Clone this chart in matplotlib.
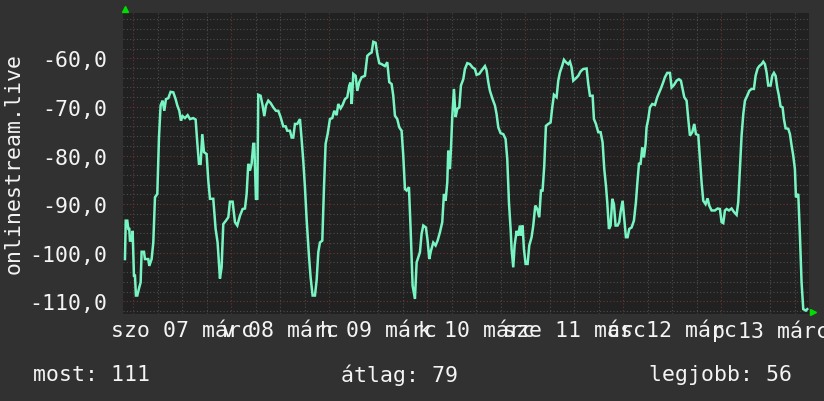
import matplotlib
matplotlib.use("Agg")
import matplotlib.pyplot as plt
import numpy as np

# ---- data (hours since Mar 07 00:00, value) ----
hours = [
    -2.04, -1.85, -1.47, -1.22, -0.98, -0.82, -0.41, -0.16, 0.16, 0.41,
    0.65, 0.98, 1.47, 1.80, 2.04, 2.61, 2.86, 3.67, 3.92, 4.49,
    4.90, 5.31, 5.88, 6.29, 6.69, 7.18, 7.59, 8.00, 8.57, 9.14,
    9.80, 10.37, 10.78, 11.27, 11.67, 12.08, 12.65, 13.31, 13.88, 14.69,
    15.27, 15.67, 16.08, 16.49, 16.90, 17.31, 17.96, 18.37, 18.78, 19.59,
    20.16, 20.65, 21.22, 21.63, 22.04, 22.69, 23.27, 23.67, 24.33, 24.90,
    25.47, 26.12, 26.78, 27.35, 27.76, 28.16, 28.57, 28.98, 29.39, 29.63,
    30.04, 30.37, 30.61, 31.18, 31.67, 32.08, 32.49, 33.06, 33.63, 34.29,
    34.94, 35.51, 36.08, 36.73, 37.31, 37.71, 38.37, 38.78, 39.18, 39.59,
    40.16, 40.82, 41.22, 41.63, 42.04, 42.45, 43.02, 43.43, 43.92, 44.49,
    44.90, 45.31, 45.71, 46.29, 46.69, 47.10, 47.59, 48.16, 48.73, 49.22,
    49.80, 50.20, 50.78, 51.27, 51.84, 52.41, 52.90, 53.20, 53.50, 53.88,
    54.45, 54.86, 55.35, 55.92, 56.73, 57.31, 57.80, 58.37, 58.78, 59.35,
    59.76, 60.24, 60.82, 61.63, 62.20, 62.69, 63.27, 63.67, 64.08, 64.65,
    65.14, 65.71, 66.12, 66.53, 66.94, 67.51, 67.92, 68.41, 68.98, 69.39,
    69.80, 70.20, 70.61, 71.02, 71.67, 72.08, 72.49, 72.90, 73.47, 74.04,
    74.53, 75.10, 75.67, 76.08, 76.49, 76.90, 77.14, 77.55, 77.80, 78.12,
    78.53, 78.94, 79.35, 79.84, 80.24, 80.82, 81.22, 81.80, 82.45, 83.10,
    83.67, 84.08, 84.73, 85.31, 86.12, 86.53, 86.94, 87.35, 88.00, 88.57,
    88.98, 89.39, 89.96, 90.61, 91.18, 91.59, 92.00, 92.41, 92.65, 93.06,
    93.39, 93.88, 94.29, 94.69, 95.02, 95.35, 95.67, 96.08, 96.57, 96.98,
    97.55, 97.96, 98.45, 98.94, 99.43, 99.84, 100.24, 100.65, 101.06, 101.63,
    102.20, 102.61, 103.02, 103.67, 104.08, 104.49, 105.06, 105.47, 105.96, 106.53,
    106.94, 107.35, 107.76, 108.41, 108.98, 109.55, 110.20, 111.02, 111.43, 111.84,
    112.49, 112.82, 113.31, 113.88, 114.45, 114.94, 115.35, 115.76, 116.08, 116.49,
    116.90, 117.31, 117.71, 118.12, 118.61, 119.02, 119.35, 119.84, 120.24, 120.65,
    121.06, 121.47, 122.04, 122.61, 123.10, 123.43, 123.84, 124.24, 124.65, 125.06,
    125.47, 125.71, 126.12, 126.53, 127.10, 127.76, 128.33, 128.82, 129.22, 129.80,
    130.20, 130.78, 131.43, 131.84, 132.41, 133.06, 133.63, 134.12, 134.53, 134.94,
    135.51, 135.92, 136.33, 136.90, 137.39, 137.80, 138.37, 138.78, 139.18, 139.59,
    140.16, 140.65, 141.06, 141.63, 142.45, 143.10, 143.67, 144.08, 144.49, 144.90,
    145.31, 145.88, 146.53, 147.10, 147.76, 148.16, 148.57, 148.98, 149.39, 149.80,
    150.37, 150.86, 151.43, 152.00, 152.41, 152.90, 153.31, 153.88, 154.29, 154.69,
    155.10, 155.51, 156.08, 156.49, 156.90, 157.31, 157.71, 158.12, 158.53, 159.02,
    159.35, 159.76, 160.41, 160.82, 161.22, 161.63, 162.04, 162.29, 162.86, 163.27,
    163.67, 164.08, 164.73, 165.06,
]
values = [
    -101.3, -93.4, -93.4, -95.1, -95.1, -97.5, -97.5, -95.5, -104.7, -104.7,
    -108.8, -108.8, -107.1, -106.1, -99.8, -99.8, -101.3, -101.3, -102.7, -101.3,
    -97.9, -88.6, -87.9, -76.3, -69.7, -68.7, -70.8, -68.4, -68.2, -66.9,
    -67.0, -68.4, -69.7, -70.8, -72.8, -71.9, -72.3, -71.7, -72.5, -72.3,
    -72.6, -77.3, -81.7, -81.7, -75.6, -79.3, -79.7, -85.2, -88.9, -88.9,
    -95.1, -97.9, -105.3, -103.0, -94.1, -93.4, -92.7, -89.5, -89.5, -93.7,
    -94.4, -92.4, -91.0, -90.9, -87.9, -81.7, -83.1, -81.7, -77.6, -77.6,
    -88.9, -88.9, -67.5, -67.7, -69.7, -71.9, -69.7, -68.7, -69.2, -70.1,
    -70.8, -70.8, -72.1, -74.0, -74.0, -74.9, -74.9, -76.3, -76.3, -73.5,
    -73.5, -72.5, -76.6, -81.1, -86.5, -93.1, -100.6, -105.1, -108.8, -108.8,
    -105.7, -99.9, -97.9, -97.5, -86.9, -77.6, -75.6, -72.5, -72.3, -70.8,
    -71.7, -69.4, -70.3, -69.6, -68.4, -68.0, -65.6, -65.0, -69.4, -63.2,
    -63.6, -66.7, -64.9, -63.9, -63.6, -59.5, -59.1, -58.8, -56.6, -56.8,
    -59.1, -61.0, -61.2, -61.6, -60.8, -64.9, -65.3, -67.7, -71.8, -72.5,
    -74.2, -74.9, -80.0, -86.9, -87.2, -86.5, -95.1, -106.8, -109.5, -102.0,
    -100.9, -99.9, -96.1, -94.4, -94.8, -97.5, -101.3, -99.6, -97.9, -98.5,
    -97.5, -95.8, -93.7, -87.9, -89.3, -85.5, -79.0, -82.8, -78.7, -72.1,
    -66.3, -72.1, -70.4, -70.1, -65.6, -64.3, -62.2, -61.0, -61.2, -61.9,
    -62.2, -63.4, -63.2, -62.5, -61.6, -62.5, -64.9, -66.7, -68.4, -69.7,
    -71.5, -74.2, -75.4, -75.6, -76.6, -80.7, -89.6, -95.1, -99.2, -103.0,
    -98.5, -95.5, -96.5, -94.4, -96.5, -94.4, -99.2, -102.3, -102.3, -98.5,
    -96.8, -94.4, -90.3, -91.0, -92.7, -87.2, -87.2, -82.1, -73.9, -73.5,
    -73.2, -70.1, -67.5, -68.0, -64.6, -62.9, -61.5, -60.3, -60.8, -61.2,
    -60.7, -61.9, -64.6, -64.1, -63.6, -62.7, -62.2, -62.1, -65.3, -67.7,
    -67.7, -72.5, -73.5, -75.2, -75.2, -77.3, -82.8, -86.2, -89.6, -95.1,
    -94.4, -88.9, -90.0, -94.4, -94.4, -93.7, -91.6, -89.3, -93.1, -96.8,
    -96.8, -95.1, -94.8, -93.4, -89.6, -85.9, -81.7, -81.7, -78.3, -80.4,
    -77.6, -74.2, -72.5, -70.1, -69.4, -69.6, -68.0, -67.0, -66.2, -64.9,
    -63.9, -63.0, -63.0, -66.0, -65.5, -64.6, -64.3, -64.6, -66.3, -68.0,
    -68.7, -72.5, -75.9, -75.2, -73.5, -75.6, -75.8, -80.7, -85.5, -89.3,
    -90.0, -88.8, -90.3, -91.3, -91.3, -90.9, -91.0, -93.7, -93.9, -91.3,
    -91.0, -91.3, -90.9, -91.6, -92.2, -89.6, -82.8, -75.9, -71.5, -68.7,
    -67.7, -66.7, -66.3, -66.3, -63.6, -62.1, -61.6, -61.2, -60.7, -61.2,
    -62.9, -65.6, -65.6, -63.6, -63.0, -63.6, -66.0, -67.7, -69.9, -70.1,
    -72.5, -74.4, -74.5, -75.6, -77.9, -80.0, -82.8, -88.6, -87.9, -96.5,
    -106.1, -111.6, -111.9, -111.6,
]

day_labels = ["szo 07 márc", "v 08 márc", "h 09 márc", "k 10 márc",
              "sze 11 márc", "cs 12 márc", "p 13 márc"]
y_ticks = [-110, -100, -90, -80, -70, -60]
y_label = "onlinestream.live"
summary_labels = ["most", "átlag", "legjobb"]
summary_values = [111, 79, 56]

# ---- styling ----
W, H = 824, 402
FIG_BG = "#313131"
AX_BG = "#212121"
MINOR = "#4c4c4c"
MAJOR = "#6a3434"
LINE = "#78f5c2"
TXT = "#f4f4f4"
FONT = "DejaVu Sans Mono"
FS = 15.5

plt.rcParams["font.family"] = [FONT, "DejaVu Sans"]

fig = plt.figure(figsize=(W / 100, H / 100), dpi=100, facecolor=FIG_BG)
ax = fig.add_axes([123 / W, 1 - 315 / H, (809 - 123) / W, (315 - 14) / H])
ax.set_facecolor(AX_BG)

xmin, xmax = -2.52, 165.49
ymin, ymax = -112.6, -50.68
ax.set_xlim(xmin, xmax)
ax.set_ylim(ymin, ymax)

dot = (0, (1, 2))
for y in np.arange(-112, -50, 2):
    if y % 10 == 0:
        continue
    ax.axhline(y, color=MINOR, lw=0.8, ls=dot, zorder=1)
for x in np.arange(0, 168, 6):
    if x % 24 == 0:
        continue
    ax.axvline(x, color=MINOR, lw=0.8, ls=dot, zorder=1)
for y in y_ticks:
    ax.axhline(y, color=MAJOR, lw=0.8, ls=dot, zorder=1.5)
for x in np.arange(0, 168, 24):
    ax.axvline(x, color=MAJOR, lw=0.8, ls=dot, zorder=1.5)

ax.plot(hours, values, color=LINE, lw=1.8, zorder=3, solid_joinstyle="miter")

for s in ax.spines.values():
    s.set_visible(False)

ax.set_yticks(y_ticks)
ax.set_yticklabels([f"{v:.1f}".replace(".", ",") for v in y_ticks])
ax.set_xticks([12 + 24 * i for i in range(len(day_labels))])
ax.set_xticklabels(day_labels)
ax.tick_params(axis="y", length=0, pad=11.5, labelsize=FS, labelcolor=TXT)
ax.tick_params(axis="x", length=0, pad=4, labelsize=FS, labelcolor=TXT)

# arrows at axis ends
ax.plot([0.003], [1.012], marker="^", color="#00dd00", ms=5, transform=ax.transAxes,
        clip_on=False, zorder=5)
ax.plot([1.006], [0.005], marker=">", color="#00dd00", ms=5, transform=ax.transAxes,
        clip_on=False, zorder=5)

fig.text(14 / W, 1 - 164 / H, y_label, rotation=90, ha="center", va="center",
         color=TXT, fontsize=FS)

xs = [33, 341, 649]
for xp, lab, val in zip(xs, summary_labels, summary_values):
    fig.text(xp / W, 1 - 375 / H, f"{lab}: {val}", ha="left", va="center",
             color=TXT, fontsize=FS)

fig.savefig("out.png", dpi=100, facecolor=FIG_BG)
